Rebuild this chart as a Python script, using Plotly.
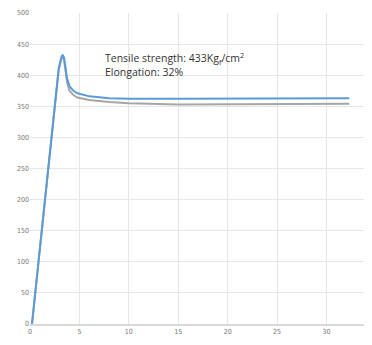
import plotly.graph_objects as go

strain_blue = [0.2, 2.9, 3.15, 3.3, 3.45, 3.6, 3.75, 4.0, 4.4, 4.8, 6.0, 8.0, 10.0, 15.0, 20.0, 25.0, 30.0, 32.3]
stress_blue = [0, 410, 428, 433, 428, 410, 395, 382, 375, 371, 366, 363, 362, 362, 362, 362, 363, 363]
strain_grey = [0.2, 2.9, 3.15, 3.3, 3.45, 3.6, 3.75, 4.0, 4.4, 4.8, 6.0, 8.0, 10.0, 15.0, 20.0, 25.0, 30.0, 32.3]
stress_grey = [0, 408, 425, 430, 424, 405, 388, 375, 368, 364, 360, 357, 355, 353, 353, 353, 354, 354]

x_ticks = [0, 5, 10, 15, 20, 25, 30, 35]
y_ticks = [0, 50, 100, 150, 200, 250, 300, 350, 400, 450, 500]

fig = go.Figure()
fig.add_trace(go.Scatter(x=strain_grey, y=stress_grey, mode="lines",
                         line=dict(color="#a6a6a6", width=2), showlegend=False))
fig.add_trace(go.Scatter(x=strain_blue, y=stress_blue, mode="lines",
                         line=dict(color="#5b9bd5", width=2), showlegend=False))

fig.add_annotation(x=0.213, y=0.833, xref="paper", yref="paper", xanchor="left", yanchor="middle",
                   text="Tensile strength: 433Kg<sub>f</sub>/cm<sup>2</sup><br>Elongation: 32%",
                   showarrow=False, align="left",
                   font=dict(family="Open Sans", size=10.5, color="#333333"))

fig.update_layout(
    width=364, height=337,
    margin=dict(l=22, r=0, t=5, b=21),
    plot_bgcolor="white", paper_bgcolor="white",
    xaxis=dict(range=[0, 34.6], tickvals=x_ticks, showgrid=True, gridcolor="#e6e6e6", gridwidth=1,
               zeroline=False, showline=True, linecolor="#d9d9d9", linewidth=2, automargin=False,
               tickfont=dict(family="DejaVu Sans Condensed", size=7, color="#777777"), ticks=""),
    yaxis=dict(range=[0, 500], tickvals=y_ticks, showgrid=True, gridcolor="#e6e6e6", gridwidth=1,
               zeroline=False, showline=False, automargin=False,
               tickfont=dict(family="DejaVu Sans Condensed", size=7, color="#777777"), ticks=""),
)
fig.write_html("out.html")
